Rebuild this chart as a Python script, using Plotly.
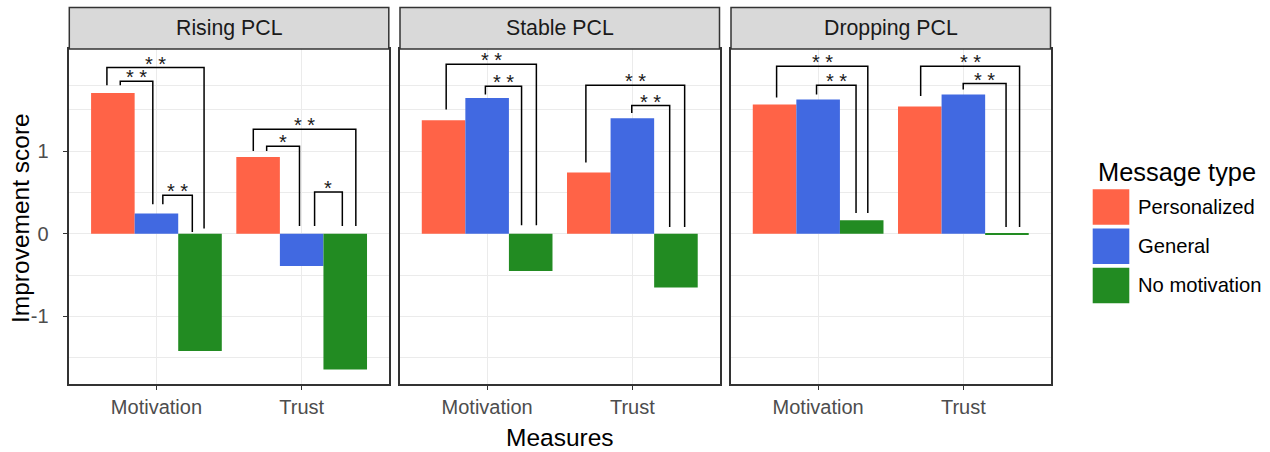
import plotly.graph_objects as go

# ---------------- data ----------------
panels = ["Rising PCL", "Stable PCL", "Dropping PCL"]
measures = ["Motivation", "Trust"]
message_types = ["Personalized", "General", "No motivation"]
colors = ["#FF6347", "#4169E1", "#228B22"]

personalized = [[1.705, 0.93], [1.374, 0.741], [1.564, 1.54]]
general = [[0.245, -0.39], [1.644, 1.398], [1.625, 1.685]]
no_motivation = [[-1.419, -1.644], [-0.45, -0.651], [0.163, -0.01]]
series = [personalized, general, no_motivation]

y_ticks = [-1, 0, 1]
y_minor = [-1.5, -0.5, 0.5, 1.5, 1.8]
y_range = [-1.812, 2.236]
x_range = [0.4, 2.6]

# significance brackets
br_panel = [0, 0, 0, 0, 0, 0, 1, 1, 1, 1, 2, 2, 2, 2]
br_x0 = [0.659, 0.751, 1.044, 1.667, 1.759, 2.089, 0.718, 0.988, 1.680, 1.996, 0.714, 0.989, 1.706, 1.999]
br_x1 = [1.328, 0.975, 1.247, 2.373, 1.985, 2.280, 1.339, 1.237, 2.360, 2.257, 1.342, 1.261, 2.387, 2.294]
br_y = [2.012, 1.846, 0.466, 1.265, 1.059, 0.506, 2.052, 1.786, 1.798, 1.552, 2.028, 1.798, 2.028, 1.818]
br_tip0 = [1.798, 1.798, 0.357, 1.002, 1.002, 0.094, 1.504, 1.685, 0.862, 1.462, 1.649, 1.685, 1.668, 1.746]
br_tip1 = [0.063, 0.357, 0.022, 0.094, 0.094, 0.094, 0.103, 0.103, 0.082, 0.082, 0.252, 0.252, 0.082, 0.082]
br_label = ["* *", "* *", "* *", "* *", "*", "*", "* *", "* *", "* *", "* *", "* *", "* *", "* *", "* *"]

# ---------------- layout helpers ----------------
W, H = 1270, 452
FONT = "Liberation Sans, Arial, sans-serif"
px = lambda v: v / W
py = lambda v: 1 - v / H

panel_px = [(69.3, 388.8), (400.0, 719.5), (731.0, 1050.5)]
plot_top, plot_bot = 49.0, 383.5
strip_top = 7.5

fig = go.Figure()
xs = [1, 2]
for p in range(3):
    suffix = "" if p == 0 else str(p + 1)
    for s in range(3):
        fig.add_trace(go.Bar(
            x=xs, y=series[s][p], name=message_types[s],
            marker=dict(color=colors[s], line=dict(width=0)),
            xaxis="x" + suffix, yaxis="y" + suffix,
            showlegend=False, offsetgroup=str(s),
        ))

layout = dict(
    width=W, height=H,
    margin=dict(l=0, r=0, t=0, b=0),
    paper_bgcolor="white", plot_bgcolor="white",
    barmode="group", bargap=0.1, bargroupgap=0,
    font=dict(family=FONT, color="#000000"),
    showlegend=False,
)
for p in range(3):
    suffix = "" if p == 0 else str(p + 1)
    layout["xaxis" + suffix] = dict(
        domain=[px(panel_px[p][0]), px(panel_px[p][1])],
        anchor="y" + suffix, range=x_range,
        tickmode="array", tickvals=xs, ticktext=measures,
        showgrid=True, gridcolor="#EBEBEB", gridwidth=1.3,
        zeroline=False, showline=True, mirror=True,
        linecolor="#333333", linewidth=1.5,
        ticks="outside", ticklen=5, tickwidth=1.3, tickcolor="#333333",
        tickfont=dict(family=FONT, size=20, color="#4D4D4D"),
        fixedrange=True,
    )
    layout["yaxis" + suffix] = dict(
        domain=[py(plot_bot), py(plot_top)],
        anchor="x" + suffix, range=y_range,
        tickmode="array", tickvals=y_ticks,
        ticktext=[str(v) for v in y_ticks],
        showticklabels=(p == 0),
        ticks="outside" if p == 0 else "", ticklen=5, tickwidth=1.3, tickcolor="#333333",
        ticklabelstandoff=10,
        showgrid=True, gridcolor="#EBEBEB", gridwidth=1.3,
        minor=dict(tickmode="array", tickvals=y_minor, showgrid=True,
                   gridcolor="#EBEBEB", gridwidth=1.1, ticks=""),
        zeroline=False, showline=True, mirror=True,
        linecolor="#333333", linewidth=1.5,
        tickfont=dict(family=FONT, size=20, color="#4D4D4D"),
        fixedrange=True,
    )
fig.update_layout(**layout)

shapes = []
annotations = []
# strips
strip_h = (plot_top - strip_top) / (plot_bot - plot_top)
for p in range(3):
    suffix = "" if p == 0 else str(p + 1)
    shapes.append(dict(type="rect", xref="x" + suffix + " domain", yref="y" + suffix + " domain",
                       x0=0, x1=1, y0=1, y1=1 + strip_h,
                       fillcolor="#D9D9D9", line=dict(color="#333333", width=1.5), layer="above"))
    annotations.append(dict(xref="x" + suffix + " domain", yref="y" + suffix + " domain",
                            x=0.5, y=1 + strip_h / 2, text=panels[p], showarrow=False,
                            xanchor="center", yanchor="middle",
                            font=dict(family=FONT, size=21.3, color="#1A1A1A")))

# brackets
for i in range(len(br_panel)):
    p = br_panel[i]
    suffix = "" if p == 0 else str(p + 1)
    path = "M {a},{t0} L {a},{y} L {b},{y} L {b},{t1}".format(
        a=br_x0[i], b=br_x1[i], y=br_y[i], t0=br_tip0[i], t1=br_tip1[i])
    shapes.append(dict(type="path", path=path, xref="x" + suffix, yref="y" + suffix,
                       line=dict(color="#000000", width=1.5)))
    annotations.append(dict(xref="x" + suffix, yref="y" + suffix,
                            x=(br_x0[i] + br_x1[i]) / 2, y=br_y[i], text=br_label[i],
                            showarrow=False, xanchor="center", yanchor="middle", yshift=4,
                            font=dict(family=FONT, size=20, color="#1A1A1A")))

# axis titles
annotations.append(dict(xref="paper", yref="paper", x=px(559.5), y=py(437),
                        text="Measures", showarrow=False, xanchor="center", yanchor="middle",
                        font=dict(family=FONT, size=24.5, color="#000000")))
annotations.append(dict(xref="paper", yref="paper", x=px(20), y=py(218),
                        text="Improvement score", showarrow=False, textangle=-90,
                        xanchor="center", yanchor="middle",
                        font=dict(family=FONT, size=24.5, color="#000000")))

# legend (drawn manually)
annotations.append(dict(xref="paper", yref="paper", x=px(1096), y=py(172),
                        text="Message type", showarrow=False, xanchor="left", yanchor="middle",
                        font=dict(family=FONT, size=25.4, color="#000000")))
key_tops = [189.3, 228.5, 267.7]
for s in range(3):
    shapes.append(dict(type="rect", xref="paper", yref="paper",
                       x0=px(1092.7), x1=px(1129.3), y0=py(key_tops[s] + 35.5), y1=py(key_tops[s]),
                       fillcolor=colors[s], line=dict(width=0)))
    annotations.append(dict(xref="paper", yref="paper", x=px(1136), y=py(key_tops[s] + 17.7),
                            text=message_types[s], showarrow=False, xanchor="left", yanchor="middle",
                            font=dict(family=FONT, size=20.2, color="#000000")))

fig.update_layout(shapes=shapes, annotations=annotations)
fig.write_html("out.html", config={"displayModeBar": False},
               post_script="document.body.style.margin='0';document.body.style.overflow='hidden';")
